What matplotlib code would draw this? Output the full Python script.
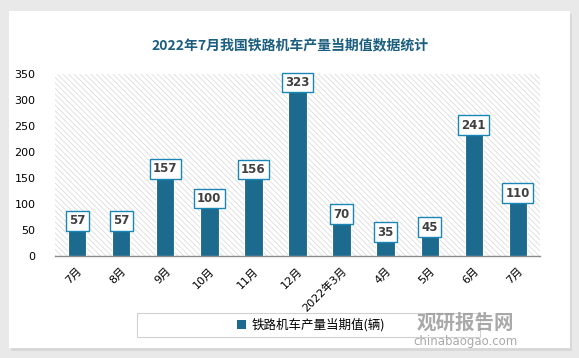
import matplotlib
matplotlib.use("Agg")
import matplotlib.pyplot as plt
from matplotlib.patches import Rectangle

plt.rcParams["font.family"] = ["DejaVu Sans", "Noto Sans CJK SC"]
plt.rcParams["hatch.linewidth"] = 0.5

# data
months = ["7月", "8月", "9月", "10月", "11月", "12月", "2022年3月",
          "4月", "5月", "6月", "7月"]
values = [57, 57, 157, 100, 156, 323, 70, 35, 45, 241, 110]
yticks = [0, 50, 100, 150, 200, 250, 300, 350]

BAR = "#1c6b8f"
EDGE = "#1a86b5"

W, H = 579, 358
fig = plt.figure(figsize=(W / 100, H / 100), dpi=100)
fig.patch.set_facecolor("#e9e9e9")

# white card with soft shadow
fig.patches.append(Rectangle((11 / W, 1 - 351 / H), 561 / W, 337 / H,
                             transform=fig.transFigure, fc="#d8d8d8",
                             ec="none", zorder=-3))
fig.patches.append(Rectangle((9 / W, 1 - 348 / H), 561 / W, 337 / H,
                             transform=fig.transFigure, fc="white",
                             ec="none", zorder=-2))

ax = fig.add_axes([55 / W, 1 - 256 / H, 485 / W, 182 / H])
ax.set_zorder(2)
ax.set_facecolor("white")
ax.add_patch(Rectangle((0, 0), 1, 1, transform=ax.transAxes, fc="white",
                       ec="#d6d6d6", lw=0, hatch="\\" * 6, zorder=0))

x = range(len(months))
ax.bar(x, values, width=0.42, color=BAR, edgecolor="white", lw=0.8, zorder=2)

for xi, v in zip(x, values):
    ax.annotate(str(v), (xi, v), xytext=(0, 4), textcoords="offset points",
                ha="center", va="center", fontsize=8.5, fontweight="bold",
                color="#404040", zorder=4,
                bbox=dict(boxstyle="square,pad=0.28", fc="white", ec=EDGE,
                          lw=1.0))

ax.set_xlim(-0.5, len(months) - 0.5)
ax.set_ylim(0, 350)
ax.set_yticks(yticks)
ax.tick_params(axis="y", length=0, labelsize=8, pad=14)
ax.tick_params(axis="x", length=0, labelsize=8, pad=7)
ax.set_xticks(list(x))
ax.set_xticklabels(months, rotation=45, ha="right", rotation_mode="anchor")
for s in ["top", "right", "left"]:
    ax.spines[s].set_visible(False)
ax.spines["bottom"].set_color("#8c8c8c")
ax.spines["bottom"].set_linewidth(1.0)
ax.spines["bottom"].set_zorder(5)

fig.text(290 / W, 1 - 45 / H, "2022年7月我国铁路机车产量当期值数据统计",
         ha="center", va="center", fontsize=10, fontweight="bold",
         color="#1b5e80", family=["Noto Sans CJK SC"])

# legend box
fig.patches.append(Rectangle((137 / W, 1 - 337 / H), 343 / W, 24 / H,
                             transform=fig.transFigure, fc="white",
                             ec="#d0d0d0", lw=0.8, zorder=-1))
handle = Rectangle((0, 0), 1, 1, fc=BAR, ec="none")
fig.legend([handle], ["铁路机车产量当期值(辆)"], loc="center",
           bbox_to_anchor=(311 / W, 1 - 325 / H), frameon=False,
           handlelength=0.7, handleheight=0.7, handletextpad=0.4,
           prop={"family": ["Noto Sans CJK SC"], "size": 9})

# watermark
fig.text(465 / W, 1 - 323 / H, "观研报告网", ha="center", va="center",
         fontsize=14, fontweight="bold", color="#9a9a9a", alpha=0.85,
         family=["Noto Sans CJK SC"])
fig.text(465 / W, 1 - 341 / H, "chinabaogao.com", ha="center", va="center",
         fontsize=8.5, color="#9a9a9a", alpha=0.85)

fig.savefig("out.png", dpi=100, facecolor=fig.get_facecolor())
